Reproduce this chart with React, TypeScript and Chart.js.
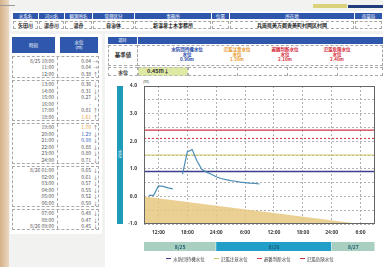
import React, { useEffect, useRef } from 'react';
import { Chart, registerables } from 'chart.js';

Chart.register(...registerables);

// ---- data ----
const obsHours = [10, 11, 12, 13, 14, 15, 16, 17, 18, 19, 20, 21, 22, 23, 24, 25, 26, 27, 28, 29, 30, 31, 32, 33];
const obsLevels: (number | null)[] = [0.04, 0.04, 0.38, 0.36, 0.31, 0.27, null, 0.81, 1.61, 1.70, 1.29, 0.98, 0.88, 0.80, 0.71, 0.65, 0.61, 0.57, 0.55, 0.52, 0.50, 0.48, 0.47, 0.45];
const obsTimeLabels = ['8/25 10:00', '11:00', '12:00', '13:00', '14:00', '15:00', '16:00', '17:00', '18:00', '19:00', '20:00', '21:00', '22:00', '23:00', '24:00', '8/26 01:00', '02:00', '03:00', '04:00', '05:00', '06:00', '07:00', '08:00', '8/26 09:00'];
const obsTrends = ['→', '→', '↑', '↓', '↓', '↓', '', '↑', '↑', '↑', '↓', '↓', '↓', '↓', '↓', '↓', '↓', '↓', '↓', '↓', '↓', '↓', '↓', '↓'];
const tableGroupSizes = [3, 6, 6, 6, 3];

const thresholdNames = ['水防団待機水位', '氾濫注意水位', '避難判断水位', '氾濫危険水位'];
const thresholdValues = [0.9, 1.5, 2.1, 2.4];
const thresholdColors = ['#3b3f8c', '#cfc766', '#d23b4b', '#cc3444'];
const thresholdTextColors = ['#2446a8', '#e8962a', '#d42a38', '#d42a38'];
const thresholdDashes = [[], [], [2, 2], []];

const groundHours = [9, 54, 57];
const groundLevels = [0.0, -1.0, -1.0];

const xMin = 9;
const xMax = 57;
const yMin = -1;
const yMax = 4;
const xTickHours = [12, 18, 24, 30, 36, 42, 48, 54];
const xTickLabels = ['12:00', '18:00', '24:00', '6:00', '12:00', '18:00', '24:00', '6:00'];

const dateLabels = ['8/25', '8/26', '8/27'];
const dateStartHours = [9, 24, 48];
const dateEndHours = [24, 48, 57];
const dateColors = ['#a9cfc0', '#229fc8', '#a9cfc0'];

const headNames = ['水系名', '河川名', '観測所名', '管理区分', '事務所', '位置', '所在地', '雨量局'];
const headValues = ['矢田川', '湯舟川', '湯舟', '自治体', '新温泉土木事務所', '-', '兵庫県美方郡香美町村岡区村岡', '-'];
const currentLevel = '0.45m↓';

const JP = "'Noto Sans CJK JP', 'Noto Sans', sans-serif";

const headCols = [[13, 38], [39, 64], [65, 92], [93, 134], [135, 211], [212, 229], [230, 354], [355, 382]];

function levelColor(v: number | null) {
  if (v === null) return '#555';
  if (v >= 1.5) return '#e5983a';
  if (v >= 0.9) return '#2f5fb8';
  return '#555';
}

const abs = (x: number, y: number, w: number, h: number, extra: React.CSSProperties = {}): React.CSSProperties => ({
  position: 'absolute', left: x, top: y, width: w, height: h, boxSizing: 'border-box', ...extra,
});

const datePlugin = {
  id: 'dateBar',
  afterDraw(chart: any) {
    const { ctx, scales, chartArea } = chart;
    const xs = scales.x;
    const y = chartArea.bottom + 18;
    ctx.save();
    for (let i = 0; i < dateLabels.length; i++) {
      const x0 = xs.getPixelForValue(dateStartHours[i]);
      const x1 = xs.getPixelForValue(dateEndHours[i]);
      ctx.fillStyle = dateColors[i];
      ctx.fillRect(x0, y, x1 - x0 - 0.5, 9);
      ctx.fillStyle = '#1d5a70';
      ctx.font = `bold 5px ${JP}`;
      ctx.textAlign = 'center';
      ctx.textBaseline = 'middle';
      ctx.fillText(dateLabels[i], (x0 + x1) / 2, y + 4.7);
    }
    ctx.restore();
  },
};

const framePlugin = {
  id: 'frame',
  afterDatasetsDraw(chart: any) {
    const { ctx, chartArea } = chart;
    ctx.save();
    ctx.strokeStyle = '#666';
    ctx.lineWidth = 1;
    ctx.strokeRect(chartArea.left + 0.5, chartArea.top + 0.5, chartArea.right - chartArea.left - 1, chartArea.bottom - chartArea.top - 1);
    ctx.restore();
  },
};

function WaterChart() {
  const ref = useRef<HTMLCanvasElement>(null);
  useEffect(() => {
    if (!ref.current) return;
    const datasets: any[] = [
      {
        label: 'ground',
        data: groundHours.map((h, i) => ({ x: h, y: groundLevels[i] })),
        borderWidth: 0,
        pointRadius: 0,
        fill: 'start',
        backgroundColor: 'rgba(230,200,128,0.85)',
        order: 10,
      },
      ...thresholdValues.map((v, i) => ({
        label: thresholdNames[i],
        data: [{ x: xMin, y: v }, { x: xMax, y: v }],
        borderColor: thresholdColors[i],
        borderWidth: i === 0 ? 1.5 : 1.1,
        borderDash: thresholdDashes[i],
        pointRadius: 0,
        fill: false,
        order: 5,
      })),
      {
        label: '水位',
        data: obsHours.map((h, i) => ({ x: h, y: obsLevels[i] })),
        borderColor: '#4e8db4',
        borderWidth: 1.2,
        pointRadius: 0,
        fill: false,
        spanGaps: false,
        order: 1,
      },
    ];
    const chart = new Chart(ref.current, {
      type: 'line',
      data: { datasets },
      options: {
        animation: false,
        responsive: false,
        maintainAspectRatio: false,
        layout: { padding: { top: 10, right: 5, left: 0, bottom: 0 } },
        plugins: { legend: { display: false }, tooltip: { enabled: false } },
        scales: {
          x: {
            type: 'linear',
            min: xMin,
            max: xMax,
            afterBuildTicks: (s: any) => { s.ticks = xTickHours.map((v) => ({ value: v })); },
            afterFit: (s: any) => { s.height = 32; },
            ticks: {
              autoSkip: false,
              maxRotation: 0,
              padding: 6,
              color: '#3f3f3f',
              font: { size: 5, weight: 'bold', family: "'Noto Sans', sans-serif" },
              callback: (v: any) => xTickLabels[xTickHours.indexOf(Number(v))] ?? '',
            },
            grid: { color: '#b0b0b0', drawTicks: false, lineWidth: 1 },
            border: { display: false, dash: [2, 2] },
          },
          y: {
            min: yMin,
            max: yMax,
            afterFit: (s: any) => { s.width = 20; },
            ticks: {
              stepSize: 0.5,
              padding: 7,
              color: '#3f3f3f',
              font: { size: 5, weight: 'bold', family: "'Noto Sans', sans-serif" },
              callback: (v: any) => (Number.isInteger(Number(v)) ? Number(v).toFixed(1) : ''),
            },
            grid: { color: '#b0b0b0', drawTicks: false, lineWidth: 1 },
            border: { display: false, dash: [2, 2] },
          },
        },
      },
      plugins: [datePlugin, framePlugin],
    });
    return () => chart.destroy();
  }, []);
  return <canvas ref={ref} width={256} height={180} style={{ position: 'absolute', left: 124, top: 76, width: 256, height: 180 }} />;
}

export default function App() {
  const dashed = '1px dashed #a8a8a8';
  const groups: number[][] = [];
  let idx = 0;
  for (const g of tableGroupSizes) {
    groups.push(Array.from({ length: g }, (_, k) => idx + k));
    idx += g;
  }
  let gy = 56;
  const rowH = 6.5;
  const groupEls = groups.map((rows, gi) => {
    const h = rows.length * rowH + 2;
    const top = gy;
    gy += h + 2;
    return (
      <div key={gi} style={abs(12, top, 87, h, { border: dashed, background: '#fff' })}>
        <div style={abs(44, 0, 1, h - 2, { borderLeft: dashed })} />
        {rows.map((r, k) => (
          <React.Fragment key={r}>
            <div style={abs(0, 0.5 + k * rowH, 41, rowH, { textAlign: 'right', fontSize: 5, lineHeight: `${rowH}px`, color: '#555' })}>{obsTimeLabels[r]}</div>
            <div style={abs(46, 0.5 + k * rowH, 32, rowH, { textAlign: 'right', fontSize: 5, lineHeight: `${rowH}px`, color: levelColor(obsLevels[r]) })}>
              {obsLevels[r] === null ? '-' : obsLevels[r]!.toFixed(2)}
            </div>
            <div style={abs(79, 0.5 + k * rowH, 7, rowH, { textAlign: 'center', fontSize: 5, lineHeight: `${rowH}px`, color: '#555' })}>{obsTrends[r]}</div>
          </React.Fragment>
        ))}
      </div>
    );
  });

  const thrCenters = [187, 237, 285, 337];

  return (
    <div style={{ position: 'fixed', left: 0, top: 0, width: 383, height: 267, overflow: 'hidden', background: '#f2f2f0', fontFamily: JP }}>
      <div style={abs(0, 0, 9, 267, { background: 'linear-gradient(90deg, #d6b189, #ead8c2)' })} />
      <div style={abs(0, 5, 15, 1, { background: '#9a9a9a' })} />
      <div style={abs(313, 4, 34, 4, { background: '#d9d27a' })} />
      <div style={abs(348, 5, 35, 3, { background: '#203c7c' })} />

      <div style={abs(11, 11, 372, 20, { background: '#fff' })} />
      {headCols.map(([a, b], i) => (
        <React.Fragment key={i}>
          <div style={abs(a, 13, b - a, 6, { background: '#2f58ad', color: '#fff', fontSize: 4.5, lineHeight: '6px', textAlign: 'center', whiteSpace: 'nowrap' })}>{headNames[i]}</div>
          <div style={abs(a, 21, b - a, 8, { border: dashed, color: '#222', fontSize: 5, lineHeight: '6px', textAlign: 'center', whiteSpace: 'nowrap', fontWeight: 700 })}>{headValues[i]}</div>
        </React.Fragment>
      ))}

      <div style={abs(10, 34, 92, 200, { background: '#fff' })} />
      <div style={abs(12, 37, 43, 16, { background: '#2f58ad', color: '#fff', fontSize: 4.5, lineHeight: '16px', textAlign: 'center' })}>時刻</div>
      <div style={abs(60, 37, 38, 16, { background: '#2f58ad', color: '#fff', fontSize: 4.5, lineHeight: '5px', textAlign: 'center', paddingTop: 3 })}>水位<br />(m)</div>
      {groupEls}

      <div style={abs(105, 34, 278, 233, { background: '#fff' })} />
      <div style={abs(108, 37, 29, 7, { background: '#2f58ad', color: '#fff', fontSize: 4, lineHeight: '7px', textAlign: 'center' })}>項目</div>
      <div style={abs(138, 37, 245, 7, { background: '#2f58ad' })} />
      <div style={abs(108, 45, 30, 21, { border: dashed, fontSize: 5.5, fontWeight: 700, lineHeight: '19px', textAlign: 'center', color: '#333' })}>基準値</div>
      <div style={abs(137, 45, 246, 21, { border: dashed })} />
      {thresholdNames.map((n, i) => (
        <div key={n} style={abs(thrCenters[i] - 25, 47, 50, 16, { color: thresholdTextColors[i], fontSize: 4.5, lineHeight: '5px', textAlign: 'center', fontWeight: 700 })}>
          {n}<br />水位<br />{thresholdValues[i].toFixed(2)}m
        </div>
      ))}
      <div style={abs(108, 67, 30, 9, { border: dashed, fontSize: 5, fontWeight: 700, lineHeight: '7px', textAlign: 'center', color: '#333' })}>水位</div>
      <div style={abs(138, 67, 50, 9, { background: '#dfe9a4', border: '1px dashed #b8b8b8', fontSize: 5.5, fontWeight: 700, lineHeight: '7px', paddingLeft: 8, color: '#333' })}>{currentLevel}</div>
      <div style={abs(188, 67, 195, 9, { border: dashed })} />
      {[237, 287, 337].map((x) => (
        <div key={x} style={abs(x, 67, 1, 9, { borderLeft: dashed })} />
      ))}

      <div style={abs(117, 86, 6, 138, { background: '#1d9bb8' })} />
      <div style={abs(117, 148, 6, 12, { color: '#fff', fontSize: 4, lineHeight: '6px', writingMode: 'vertical-rl', textAlign: 'center' })}>水位</div>
      <div style={abs(143, 78, 10, 6, { fontSize: 4, lineHeight: '6px', color: '#444' })}>(m)</div>

      <WaterChart />

      <div style={abs(150, 255, 200, 7, { display: 'flex', justifyContent: 'center', alignItems: 'center', gap: 9, fontSize: 4.5, color: '#444', whiteSpace: 'nowrap' })}>
        {thresholdNames.map((n, i) => (
          <span key={n} style={{ display: 'flex', alignItems: 'center', gap: 2 }}>
            <span style={{ display: 'inline-block', width: 5, height: 0, borderTop: `1.5px ${thresholdDashes[i].length ? 'dashed' : 'solid'} ${thresholdColors[i]}` }} />
            {n}
          </span>
        ))}
      </div>
    </div>
  );
}
